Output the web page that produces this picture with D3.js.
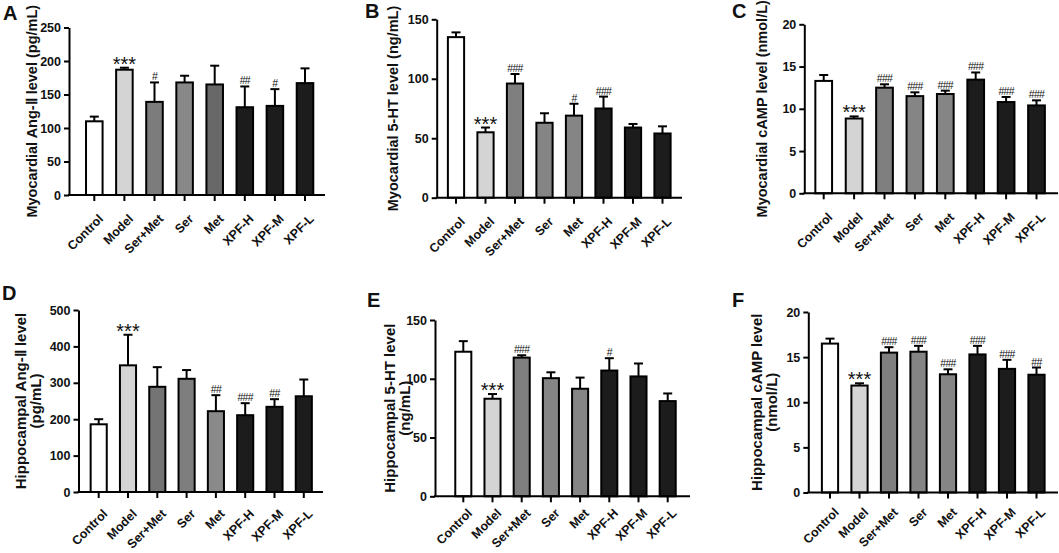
<!DOCTYPE html>
<html>
<head>
<meta charset="utf-8">
<script src="https://cdn.jsdelivr.net/npm/d3@7"></script>
<style>
  body { margin: 0; background: #fff; }
  svg text { font-family: "Liberation Sans", Arial, sans-serif; }
</style>
</head>
<body>
<div class="bars"></div>
<script>
// groups shared by every panel
const groups = ["Control", "Model", "Ser+Met", "Ser", "Met", "XPF-H", "XPF-M", "XPF-L"];

// A: myocardial Ang-II (pg/mL)
const myoAngMean = [110, 187, 139, 168, 165, 131, 133, 167];
const myoAngSd   = [7, 3, 29, 10, 28, 31, 25, 22];
const myoAngSig  = ["", "***", "#", "", "", "##", "#", ""];
const myoAngTicks = [0, 50, 100, 150, 200, 250];

// B: myocardial 5-HT (ng/mL)
const myo5htMean = [135, 55, 96, 63, 69, 75, 59, 54];
const myo5htSd   = [4, 4, 8, 8, 10, 10, 3, 6];
const myo5htSig  = ["", "***", "###", "", "#", "###", "", ""];
const myo5htTicks = [0, 50, 100, 150];

// C: myocardial cAMP (nmol/L)
const myoCampMean = [13.3, 8.85, 12.5, 11.5, 11.75, 13.45, 10.8, 10.4];
const myoCampSd   = [0.7, 0.25, 0.4, 0.45, 0.4, 0.85, 0.6, 0.6];
const myoCampSig  = ["", "***", "###", "###", "###", "###", "###", "###"];
const myoCampTicks = [0, 5, 10, 15, 20];

// D: hippocampal Ang-II (pg/mL)
const hipAngMean = [186, 348, 289, 311, 222, 211, 234, 263];
const hipAngSd   = [14, 84, 54, 24, 44, 33, 21, 46];
const hipAngSig  = ["", "***", "", "", "##", "###", "##", ""];
const hipAngTicks = [0, 100, 200, 300, 400, 500];

// E: hippocampal 5-HT (ng/mL)
const hip5htMean = [123, 83, 118, 100.5, 91.5, 107, 102, 81];
const hip5htSd   = [9, 4, 2, 5, 9.5, 10.5, 11, 6.5];
const hip5htSig  = ["", "***", "###", "", "", "#", "", ""];
const hip5htTicks = [0, 50, 100, 150];

// F: hippocampal cAMP (nmol/L)
const hipCampMean = [16.5, 11.85, 15.5, 15.6, 13.1, 15.3, 13.7, 13.05];
const hipCampSd   = [0.55, 0.25, 0.6, 0.65, 0.55, 0.95, 1.0, 0.8];
const hipCampSig  = ["", "***", "###", "###", "###", "###", "###", "##"];
const hipCampTicks = [0, 5, 10, 15, 20];

const dark = "#1c1c1c";
const fillsA = ["#ffffff", "#d4d4d4", "#7c7c7c", "#888888", "#686868", dark, dark, dark];
const fillsB = ["#ffffff", "#d4d4d4", "#7f7f7f", "#858585", "#858585", dark, dark, dark];
const fillsD = ["#ffffff", "#d4d4d4", "#747474", "#7e7e7e", "#8a8a8a", dark, dark, dark];

const panels = [
  { letter: "A", lx: 3, ly: 20, title: ["Myocardial Ang-\u2161 level (pg/mL)"], tx: 32, fs: 14.5, xl: 18,
    ax: 69, by: 195, ty: 27.5, c0: 94.3, step: 30.1, end: 325,
    mean: myoAngMean, sd: myoAngSd, sig: myoAngSig, ticks: myoAngTicks, fills: fillsA },
  { letter: "B", lx: 365, ly: 18, title: ["Myocardial 5-HT level (ng/mL)"], tx: 393, fs: 14.5, xl: 18,
    ax: 436.7, by: 197.7, ty: 19.3, c0: 456, step: 29.5, end: 682,
    mean: myo5htMean, sd: myo5htSd, sig: myo5htSig, ticks: myo5htTicks, fills: fillsB },
  { letter: "C", lx: 732, ly: 18, title: ["Myocardial cAMP  level (nmol/L)"], tx: 762, fs: 14.5, xl: 18,
    ax: 804.3, by: 193.3, ty: 24.3, c0: 823.7, step: 30.4, end: 1058,
    mean: myoCampMean, sd: myoCampSd, sig: myoCampSig, ticks: myoCampTicks, fills: fillsB },
  { letter: "D", lx: 2, ly: 300, title: ["Hippocampal Ang-\u2161 level", "(pg/mL)"], tx: 21, fs: 15, xl: 16,
    ax: 78.5, by: 492, ty: 310, c0: 98.7, step: 29.3, end: 323,
    mean: hipAngMean, sd: hipAngSd, sig: hipAngSig, ticks: hipAngTicks, fills: fillsD },
  { letter: "E", lx: 367, ly: 306.5, title: ["Hippocampal 5-HT level", "(ng/mL)"], tx: 390, fs: 15, xl: 11,
    ax: 435, by: 496.3, ty: 320, c0: 463.3, step: 29.2, end: 690,
    mean: hip5htMean, sd: hip5htSd, sig: hip5htSig, ticks: hip5htTicks, fills: fillsB },
  { letter: "F", lx: 732, ly: 306.5, title: ["Hippocampal cAMP level", "(nmol/L)"], tx: 757, fs: 15, xl: 14,
    ax: 808.3, by: 492.5, ty: 312, c0: 830, step: 29.5, end: 1058,
    mean: hipCampMean, sd: hipCampSd, sig: hipCampSig, ticks: hipCampTicks, fills: fillsB }
];

const svg = d3.select(".bars")
              .append("svg")
                .attr("width", 1059)
                .attr("height", 553);

panels.forEach(p => {
    const g = svg.append("g");
    const rows = groups.map((name, i) => ({ name, mean: p.mean[i], sd: p.sd[i], sig: p.sig[i], fill: p.fills[i] }));

    const x = d3.scaleBand()
                .domain(groups)
                .range([p.c0 - p.step / 2, p.c0 - p.step / 2 + groups.length * p.step])
                .paddingInner(0.45)
                .paddingOuter(0.225);

    const y = d3.scaleLinear()
                .domain([0, d3.max(p.ticks)])
                .range([p.by, p.ty]);

    /* bars */
    g.selectAll("rect")
     .data(rows)
     .enter()
     .append("rect")
        .attr("x", d => x(d.name))
        .attr("y", d => y(d.mean))
        .attr("width", x.bandwidth())
        .attr("height", d => y(0) - y(d.mean))
        .attr("fill", d => d.fill)
        .attr("stroke", "black")
        .attr("stroke-width", 2);

    /* upper error bars */
    const cx = d => x(d.name) + x.bandwidth() / 2;
    g.selectAll("line.err")
     .data(rows)
     .enter()
     .append("line")
        .attr("class", "err")
        .attr("x1", cx).attr("x2", cx)
        .attr("y1", d => y(d.mean)).attr("y2", d => y(d.mean + d.sd))
        .attr("stroke", "black").attr("stroke-width", 2);
    g.selectAll("line.cap")
     .data(rows)
     .enter()
     .append("line")
        .attr("class", "cap")
        .attr("x1", d => cx(d) - 4.5).attr("x2", d => cx(d) + 4.5)
        .attr("y1", d => y(d.mean + d.sd)).attr("y2", d => y(d.mean + d.sd))
        .attr("stroke", "black").attr("stroke-width", 2);

    /* significance marks */
    g.selectAll("text.sig")
     .data(rows.filter(d => d.sig))
     .enter()
     .append("text")
        .attr("class", "sig")
        .attr("x", cx)
        .attr("y", d => y(d.mean + d.sd) + (d.sig[0] === "*" ? 3 : -2))
        .attr("text-anchor", "middle")
        .attr("font-size", d => d.sig[0] === "*" ? "20px" : "10.5px")
        .attr("letter-spacing", d => d.sig[0] === "*" ? "0px" : "-0.7px")
        .attr("fill", "#111")
        .text(d => d.sig);

    /* y axis */
    const yAxis = g.append("g")
                   .attr("transform", "translate(" + p.ax + ",0)")
                   .call(d3.axisLeft(y).tickValues(p.ticks).tickSize(5).tickSizeOuter(0).tickPadding(3));
    yAxis.select(".domain").attr("stroke-width", 2);
    yAxis.selectAll(".tick line").attr("stroke-width", 2);
    yAxis.selectAll(".tick text")
         .attr("font-size", "12.5px")
         .attr("font-weight", "bold")
         .attr("font-family", "Liberation Sans, Arial, sans-serif")
         .attr("fill", "#111");

    /* x axis */
    const xAxis = g.append("g")
                   .attr("transform", "translate(0," + p.by + ")")
                   .call(d3.axisBottom(x).tickSize(6).tickSizeOuter(0));
    xAxis.select(".domain").remove();
    xAxis.selectAll(".tick line").attr("stroke-width", 2);
    xAxis.selectAll(".tick text")
         .attr("font-size", "12.5px")
         .attr("font-weight", "bold")
         .attr("font-family", "Liberation Sans, Arial, sans-serif")
         .attr("fill", "#111")
         .attr("text-anchor", "end")
         .attr("transform", "translate(3," + p.xl + ") rotate(-45)")
         .attr("dy", "0.75em")
         .attr("y", 0);
    g.append("line")
        .attr("x1", p.ax - 1).attr("x2", p.end)
        .attr("y1", p.by).attr("y2", p.by)
        .attr("stroke", "black").attr("stroke-width", 2);

    /* y title */
    const cy = (p.ty + p.by) / 2;
    p.title.forEach((t, i) => {
        g.append("text")
            .attr("transform", "translate(" + (p.tx + i * 15) + "," + cy + ") rotate(-90)")
            .attr("text-anchor", "middle")
            .attr("dy", "0.35em")
            .attr("font-size", p.fs + "px")
            .attr("font-weight", "bold")
            .attr("fill", "#111")
            .text(t);
    });

    /* panel letter */
    g.append("text")
        .attr("x", p.lx)
        .attr("y", p.ly)
        .attr("font-size", "20px")
        .attr("font-weight", "bold")
        .attr("fill", "#111")
        .text(p.letter);
});
</script>
</body>
</html>
